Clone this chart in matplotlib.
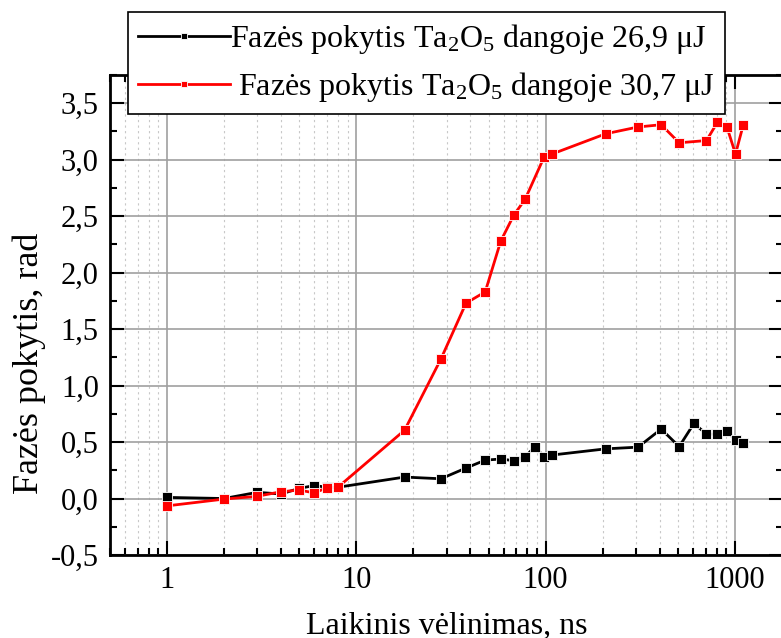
import matplotlib
matplotlib.use("Agg")
import matplotlib.pyplot as plt
from matplotlib.ticker import FuncFormatter, LogLocator, MultipleLocator, NullFormatter

plt.rcParams['font.family'] = ['Liberation Serif', 'DejaVu Serif']
plt.rcParams['mathtext.fontset'] = 'custom'
plt.rcParams['mathtext.rm'] = 'Liberation Serif'
plt.rcParams['mathtext.it'] = 'Liberation Serif:italic'

# delay, ns
x_black = [1, 2, 3, 4, 5, 6, 7, 8, 18, 28, 38, 48, 58, 68, 78, 88, 98, 108,
           208, 308, 408, 508, 608, 708, 808, 908, 1008, 1108]
y_black = [0.01, 0.0, 0.055, 0.04, 0.09, 0.115, 0.10, 0.10, 0.19, 0.175, 0.27, 0.34,
           0.35, 0.335, 0.37, 0.46, 0.37, 0.385, 0.44, 0.455, 0.615, 0.46, 0.665,
           0.57, 0.57, 0.60, 0.515, 0.49]

x_red = [1, 2, 3, 4, 5, 6, 7, 8, 18, 28, 38, 48, 58, 68, 78, 98, 108,
         208, 308, 408, 508, 708, 808, 908, 1008, 1108]
y_red = [-0.065, -0.005, 0.02, 0.06, 0.075, 0.05, 0.095, 0.10, 0.605, 1.235, 1.73,
         1.83, 2.28, 2.51, 2.65, 3.02, 3.05, 3.23, 3.29, 3.31, 3.15, 3.17, 3.33,
         3.29, 3.05, 3.31]

label_black = r'Fazės pokytis Ta$_2$O$_5$ dangoje 26,9 μJ'
label_red = r' Fazės pokytis Ta$_2$O$_5$ dangoje 30,7 μJ'

fig = plt.figure(figsize=(7.81, 6.38), dpi=100)
ax = fig.add_axes([0.1408, 0.1301, 0.862, 0.7523])

ax.plot(x_black, y_black, color='black', lw=2, marker='s', ms=7,
        mec='white', mew=0.6, label=label_black, zorder=3)
ax.plot(x_red, y_red, color='red', lw=2, marker='s', ms=7,
        mec='white', mew=0.6, label=label_red, zorder=4)

ax.set_xscale('log')
ax.set_xlim(0.5, 1800)
ax.set_ylim(-0.5, 3.75)

ax.xaxis.set_major_locator(LogLocator(base=10, numticks=10))
ax.xaxis.set_minor_locator(LogLocator(base=10, subs=range(2, 10), numticks=20))
ax.xaxis.set_major_formatter(FuncFormatter(lambda v, p: '%g' % v))
ax.xaxis.set_minor_formatter(NullFormatter())
ax.yaxis.set_major_locator(MultipleLocator(0.5))
ax.yaxis.set_minor_locator(MultipleLocator(0.25))
ax.yaxis.set_major_formatter(FuncFormatter(lambda v, p: ('%.1f' % v).replace('.', ',')))

ax.grid(which='major', color='#a0a0a0', lw=1.2)
ax.grid(which='minor', axis='x', color='#c8c8c8', lw=0.8, ls=(0, (2, 3)))

ax.tick_params(which='both', direction='in', top=True, right=True, labelsize=22, pad=8)
ax.tick_params(which='major', length=10, width=1.5)
ax.tick_params(which='minor', length=5, width=1.5)
for s in ax.spines.values():
    s.set_linewidth(2)

ax.set_xlabel('Laikinis vėlinimas, ns', fontsize=23, labelpad=12)
ax.set_ylabel('Fazės pokytis, rad', fontsize=26)
ax.yaxis.set_label_coords(-0.095, 0.40)

leg = ax.legend(loc='upper left', bbox_to_anchor=(0.164, 0.981),
                bbox_transform=fig.transFigure, fontsize=23, frameon=True,
                fancybox=False, edgecolor='black', framealpha=1,
                borderaxespad=0, markerscale=0.7, handlelength=2.9,
                handletextpad=0.0, labelspacing=0.45, borderpad=0.3)
leg.get_frame().set_linewidth(1.2)
leg.set_zorder(10)

fig.savefig('out.png', dpi=100)
